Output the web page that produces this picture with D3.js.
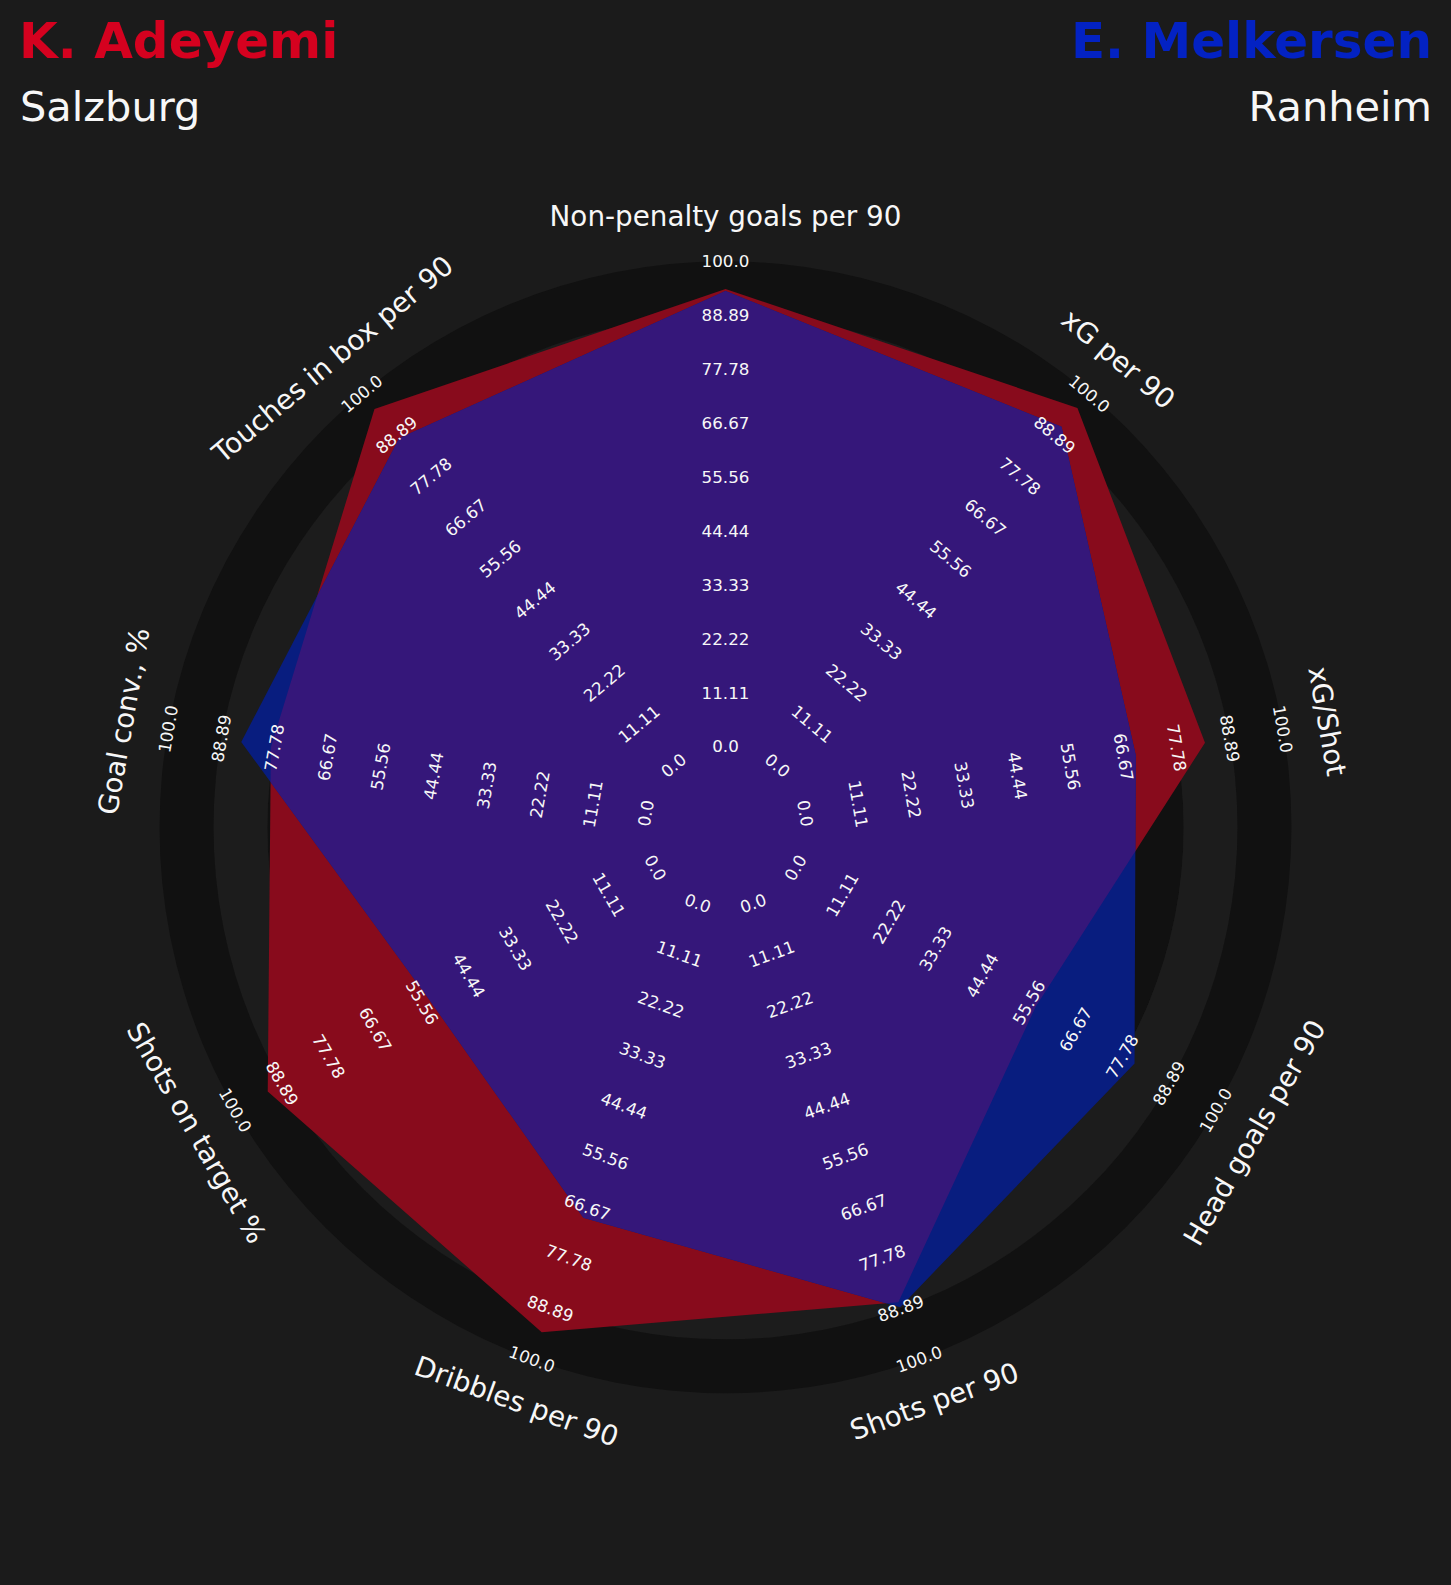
<!DOCTYPE html>
<html>
<head>
<meta charset="utf-8">
<script src="https://cdn.jsdelivr.net/npm/d3@7"></script>
<style>
  html, body { margin: 0; padding: 0; background: #1b1b1b; }
  svg { display: block; }
</style>
</head>
<body>
<svg id="chart" width="1451" height="1585"></svg>
<script>
// ---------------- data ----------------
const params = ["Non-penalty goals per 90", "xG per 90", "xG/Shot", "Head goals per 90",
  "Shots per 90", "Dribbles per 90", "Shots on target %", "Goal conv., %", "Touches in box per 90"];
const adeyemiValues   = [94.3, 96.2, 83.7, 57.2, 87.5, 94.1, 92.3, 78.5, 95.9];
const melkersenValues = [93.9, 91.1, 69.2, 80.7, 88.6, 69.0, 54.0, 84.7, 88.0];
const rangeTickLabels = ["0.0", "11.11", "22.22", "33.33", "44.44", "55.56", "66.67", "77.78", "88.89", "100.0"];
const rangeMin = 0, rangeMax = 100;
const playerNames = ["K. Adeyemi", "E. Melkersen"];
const playerTeams = ["Salzburg", "Ranheim"];

// ---------------- layout ----------------
const W = 1451, H = 1585;
const cx = 725.5, cy = 827.3;
const u = 53.9;                 // ring width
const innerR = 1.5 * u, outerR = 10.5 * u;
const labelR = 611;
const colors = {
  bg: "#1b1b1b", ringDark: "#111111", ringLight: "#1c1c1c",
  red: "#880b1c", blue: "#081d7f", overlap: "#35177a",
  redTitle: "#d5011f", blueTitle: "#0322c3", text: "#f7f7f7"
};
const font = "'DejaVu Sans', 'Liberation Sans', sans-serif";

const svg = d3.select("#chart");
svg.append("rect").attr("width", W).attr("height", H).attr("fill", colors.bg);

const r = d3.scaleLinear().domain([rangeMin, rangeMax]).range([innerR, outerR]);
const n = params.length;
const angle = d3.scaleLinear().domain([0, n]).range([0, 2 * Math.PI]);

const g = svg.append("g").attr("transform", `translate(${cx},${cy})`);

// rings
const arc = d3.arc().startAngle(0).endAngle(2 * Math.PI);
g.append("circle").attr("r", innerR).attr("fill", colors.ringLight);
for (let k = 1; k <= rangeTickLabels.length - 1; k++) {
  g.append("path")
    .attr("d", arc({ innerRadius: (0.5 + k) * u, outerRadius: (1.5 + k) * u }))
    .attr("fill", k % 2 === 1 ? colors.ringDark : colors.ringLight);
}

// polygons
const radial = d3.lineRadial()
  .angle((d, i) => angle(i))
  .radius(d => r(d))
  .curve(d3.curveLinearClosed);

const defs = svg.append("defs");
defs.append("clipPath").attr("id", "blueClip")
  .append("path").attr("d", radial(melkersenValues));

g.append("path").attr("d", radial(adeyemiValues)).attr("fill", colors.red);
g.append("path").attr("d", radial(melkersenValues)).attr("fill", colors.blue);
g.append("path").attr("d", radial(adeyemiValues)).attr("fill", colors.overlap)
  .attr("clip-path", "url(#blueClip)");

// helpers for rotated labels
function place(theta, rad) {
  const deg = theta * 180 / Math.PI;
  let rot;
  if (deg > 90 && deg < 270) rot = deg - 180;
  else if (deg >= 270) rot = deg - 360;
  else rot = deg;
  const x = rad * Math.sin(theta), y = -rad * Math.cos(theta);
  return `translate(${x.toFixed(2)},${y.toFixed(2)}) rotate(${rot.toFixed(2)})`;
}

// range labels
const tickValues = rangeTickLabels.map((_, i) => rangeMin + i * (rangeMax - rangeMin) / (rangeTickLabels.length - 1));
params.forEach((p, i) => {
  const th = angle(i);
  tickValues.forEach((v, j) => {
    g.append("text")
      .attr("transform", place(th, r(v)))
      .attr("text-anchor", "middle")
      .attr("dominant-baseline", "central")
      .attr("font-family", font)
      .attr("font-size", 16.7)
      .attr("fill", colors.text)
      .text(rangeTickLabels[j]);
  });
});

// parameter labels
params.forEach((p, i) => {
  g.append("text")
    .attr("transform", place(angle(i), labelR))
    .attr("text-anchor", "middle")
    .attr("dominant-baseline", "central")
    .attr("font-family", font)
    .attr("font-size", 27.8)
    .attr("fill", colors.text)
    .text(p);
});

// titles
svg.append("text").attr("x", 19).attr("y", 57.5)
  .attr("font-family", font).attr("font-weight", "bold").attr("font-size", 50)
  .attr("fill", colors.redTitle).text(playerNames[0]);
svg.append("text").attr("x", 20).attr("y", 121)
  .attr("font-family", font).attr("font-size", 41.5)
  .attr("fill", colors.text).text(playerTeams[0]);
svg.append("text").attr("x", 1432).attr("y", 57.5).attr("text-anchor", "end")
  .attr("font-family", font).attr("font-weight", "bold").attr("font-size", 50)
  .attr("fill", colors.blueTitle).text(playerNames[1]);
svg.append("text").attr("x", 1432).attr("y", 121).attr("text-anchor", "end")
  .attr("font-family", font).attr("font-size", 41.5)
  .attr("fill", colors.text).text(playerTeams[1]);
</script>
</body>
</html>
